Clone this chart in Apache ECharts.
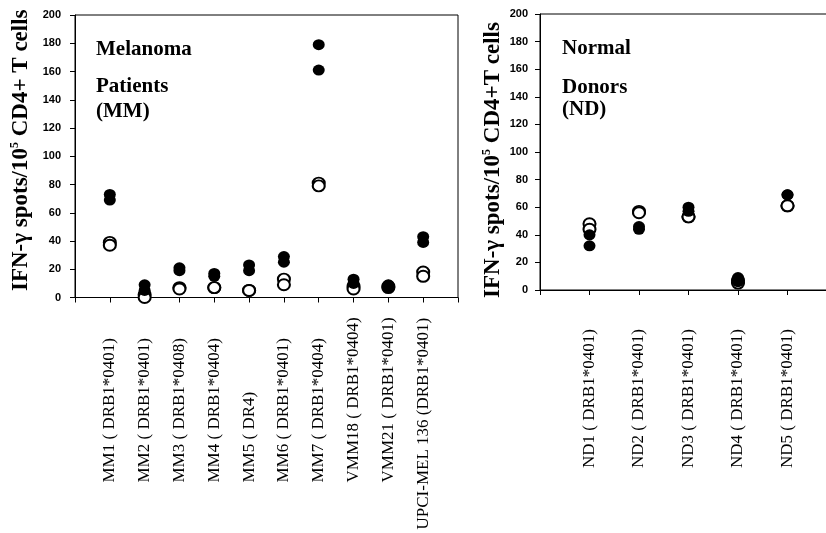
<!DOCTYPE html>
<html><head><meta charset="utf-8">
<script src="https://cdn.jsdelivr.net/npm/echarts@6/dist/echarts.min.js"></script>
<style>html,body{margin:0;padding:0;background:#fff}#c{width:826px;height:533px}</style>
</head><body><div id="c"></div>
<script>
// ---- data ----
const mmCategories = ['MM1 ( DRB1*0401)', 'MM2 ( DRB1*0401)', 'MM3 ( DRB1*0408)', 'MM4 ( DRB1*0404)', 'MM5 ( DR4)', 'MM6 ( DRB1*0401)', 'MM7 ( DRB1*0404)', 'VMM18 ( DRB1*0404)', 'VMM21 ( DRB1*0401)', 'UPCI-MEL 136 (DRB1*0401)'];
const mmFilled = [[73, 69], [9, 5], [21, 19], [17, 15], [23, 19], [29, 25], [179, 161], [13, 10], [9, 7], [43, 39]];
const mmOpen = [[39, 37], [2, 0], [7, 6], [7, 7], [5, 5], [13, 9], [81, 79], [8, 6], [8, 7], [18, 15]];
const ndCategories = ['ND1 ( DRB1*0401)', 'ND2 ( DRB1*0401)', 'ND3 ( DRB1*0401)', 'ND4 ( DRB1*0401)', 'ND5 ( DRB1*0401)'];
const ndFilled = [[40, 32], [46, 44], [60, 57], [9, 6], [69, 69]];
const ndOpen = [[48, 44], [57, 56], [53, 53], [7, 5], [61, 61]];
const yMin = 0, yMax = 200, yStep = 20;
const yNameLeft = 'IFN-γ spots/10{sup|5} CD4+ T cells';
const yNameRight = 'IFN-γ spots/10{sup|5} CD4+T cells';
const panelTitles = { mm: ['Melanoma', 'Patients', '(MM)'], nd: ['Normal', 'Donors', '(ND)'] };

// ---- build ----
const serif = '"Liberation Serif", "Times New Roman", serif';
const sans = '"Liberation Sans", Arial, sans-serif';

function axisCats(cats) { return [''].concat(cats, [' ']); }
function points(arr) {
  const out = [];
  arr.forEach((pair, i) => pair.forEach(v => out.push([i + 1, v])));
  return out;
}
// long last label on MM axis starts lower; others are lifted
const mmNudge = { 1: 19, 7: 15 };
const mmAxisData = axisCats(mmCategories).map((c, i) => {
  if (i === 0 || i === mmCategories.length + 1 || i === mmCategories.length) return c;
  return { value: c, textStyle: { align: 'left', padding: [0, 0, mmNudge[i - 1] || 4, 47] } };
});

const yAxisBase = (margin, namePad) => ({
  type: 'value', min: yMin, max: yMax, interval: yStep,
  axisLine: { show: true, lineStyle: { color: '#000', width: 1 } },
  axisTick: { show: true, length: 5, lineStyle: { color: '#000' } },
  axisLabel: { color: '#000', fontFamily: sans, fontWeight: 'bold', fontSize: 11, margin: margin },
  splitLine: { show: false },
  nameLocation: 'middle', nameRotate: 90,
  nameTextStyle: {
    fontFamily: serif, fontWeight: 'bold', fontSize: 23, color: '#000', lineHeight: 25, padding: namePad,
    rich: { sup: { fontFamily: serif, fontWeight: 'bold', fontSize: 12, verticalAlign: 'top', lineHeight: 25 } }
  }
});

const xAxisBase = (margin) => ({
  type: 'category', boundaryGap: false,
  axisLine: { show: true, lineStyle: { color: '#000', width: 1 } },
  axisTick: { show: true, length: 5, interval: 0, lineStyle: { color: '#000' } },
  axisLabel: { interval: 0, rotate: 90, align: 'left', margin: margin, color: '#000', fontFamily: serif, fontSize: 17, hideOverlap: false },
  splitLine: { show: false }
});

const openStyle = { color: '#fff', borderColor: '#000', borderWidth: 2, opacity: 1 };
const filledStyle = { color: '#000', borderColor: '#000', borderWidth: 0, opacity: 1 };

function titleTexts(lines, x, ys) {
  return lines.map((t, i) => ({
    type: 'text', x: x, y: ys[i],
    style: { text: t, font: 'bold 21px ' + serif, fill: '#000', verticalAlign: 'middle' }
  }));
}

const option = {
  backgroundColor: '#fff',
  animation: false,
  grid: [
    { left: 75, top: 15, width: 383, height: 282.5, show: true, borderColor: '#000', borderWidth: 1, backgroundColor: 'transparent', outerBoundsMode: 'none', containLabel: false },
    { left: 540, top: 14, width: 297, height: 276, show: true, borderColor: '#000', borderWidth: 1, backgroundColor: 'transparent', outerBoundsMode: 'none', containLabel: false }
  ],
  xAxis: [
    Object.assign(xAxisBase(232), { gridIndex: 0, data: mmAxisData }),
    Object.assign(xAxisBase(178), { gridIndex: 1, data: axisCats(ndCategories) })
  ],
  yAxis: [
    Object.assign(yAxisBase(14, [0, 0, 0, 12]), { gridIndex: 0, name: yNameLeft, nameGap: 41 }),
    Object.assign(yAxisBase(12, [0, 16, 0, 0]), { gridIndex: 1, name: yNameRight, nameGap: 30 })
  ],
  series: [
    { type: 'scatter', xAxisIndex: 0, yAxisIndex: 0, symbol: 'circle', symbolSize: [12, 11], itemStyle: openStyle, data: points(mmOpen) },
    { type: 'scatter', xAxisIndex: 0, yAxisIndex: 0, symbol: 'circle', symbolSize: [12, 11], itemStyle: filledStyle, data: points(mmFilled) },
    { type: 'scatter', xAxisIndex: 1, yAxisIndex: 1, symbol: 'circle', symbolSize: [12, 11], itemStyle: openStyle, data: points(ndOpen) },
    { type: 'scatter', xAxisIndex: 1, yAxisIndex: 1, symbol: 'circle', symbolSize: [12, 11], itemStyle: filledStyle, data: points(ndFilled) }
  ],
  graphic: [].concat(
    titleTexts(panelTitles.mm, 96, [50, 87, 112]),
    titleTexts(panelTitles.nd, 562, [49, 88, 110])
  )
};
// right-hand labels sit a little right of their ticks
option.xAxis[1].axisLabel.padding = [20, 0, 0, 0];

const chart = echarts.init(document.getElementById('c'), null, { renderer: 'canvas' });
chart.setOption(option);
</script>
</body></html>
